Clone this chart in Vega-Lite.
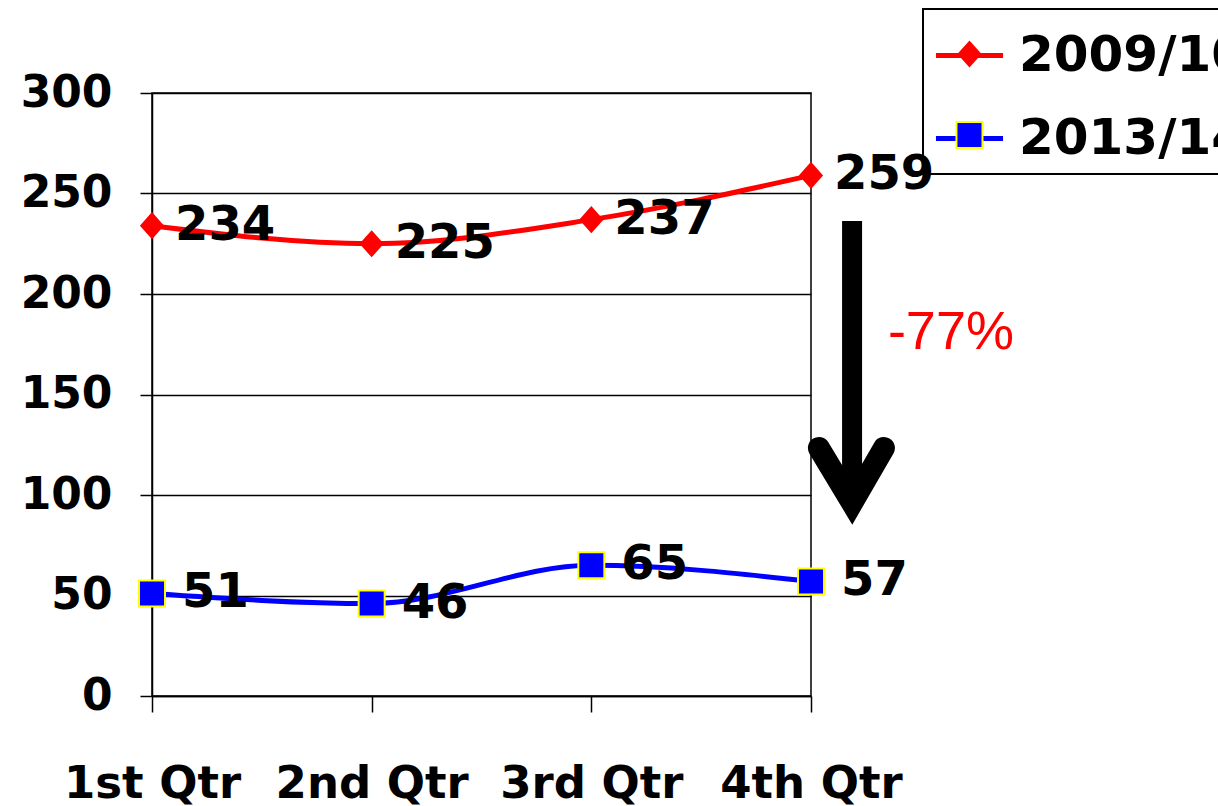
{
  "$schema": "https://vega.github.io/schema/vega-lite/v6.json",
  "width": 659,
  "height": 603,
  "autosize": {"type": "none"},
  "padding": {"left": 152, "top": 93, "right": 407, "bottom": 110},
  "background": "white",
  "config": {
    "view": {"stroke": "black", "strokeWidth": 1.5},
    "legend": {"strokeWidth": 2}
  },
  "datasets": {
    "main": [
      {"x": 1, "y": 234, "series": "2009/10", "yr": "2009/10"},
      {"x": 2, "y": 225, "series": "2009/10", "yr": "2009/10"},
      {"x": 3, "y": 237, "series": "2009/10", "yr": "2009/10"},
      {"x": 4, "y": 259, "series": "2009/10", "yr": "2009/10"},
      {"x": 1, "y": 51, "series": "2013/14", "yr": "2013/14"},
      {"x": 2, "y": 46, "series": "2013/14", "yr": "2013/14"},
      {"x": 3, "y": 65, "series": "2013/14", "yr": "2013/14"},
      {"x": 4, "y": 57, "series": "2013/14", "yr": "2013/14"}
    ],
    "shaft": [{"x": 4.187, "y": 236.3, "y2": 105}],
    "head": [
      {"x": 4.036, "y": 123.4, "o": 1},
      {"x": 4.187, "y": 96, "o": 2},
      {"x": 4.332, "y": 123.4, "o": 3}
    ],
    "note": [{"x": 4.35, "y": 180.6, "t": "-77%"}]
  },
  "encoding": {
    "x": {
      "field": "x",
      "type": "quantitative",
      "scale": {"domain": [1, 4], "nice": false, "zero": false},
      "axis": {
        "values": [1, 2, 3, 4],
        "labelExpr": "['','1st Qtr','2nd Qtr','3rd Qtr','4th Qtr'][datum.value]",
        "title": null,
        "grid": false,
        "tickSize": 16,
        "tickColor": "black",
        "tickWidth": 1.5,
        "domainColor": "black",
        "domainWidth": 1.5,
        "labelFont": "DejaVu Sans",
        "labelFontWeight": "bold",
        "labelFontSize": 45,
        "labelColor": "black",
        "labelPadding": 49,
        "labelLimit": 0,
        "labelFlush": false,
        "labelOverlap": false,
        "labelBound": false
      }
    },
    "y": {
      "field": "y",
      "type": "quantitative",
      "scale": {"domain": [0, 300], "nice": false, "zero": true},
      "axis": {
        "values": [0, 50, 100, 150, 200, 250, 300],
        "title": null,
        "grid": true,
        "gridColor": "black",
        "gridWidth": 1.5,
        "gridOpacity": 1,
        "tickSize": 12,
        "tickColor": "black",
        "tickWidth": 1.5,
        "domainColor": "black",
        "domainWidth": 1.5,
        "labelFont": "DejaVu Sans",
        "labelFontWeight": "bold",
        "labelFontSize": 44,
        "labelColor": "black",
        "labelPadding": 28,
        "labelLimit": 0,
        "labelFlush": false,
        "labelOverlap": false
      }
    }
  },
  "layer": [
    {
      "data": {"name": "main"},
      "mark": {"type": "line", "interpolate": "monotone", "strokeWidth": 5},
      "encoding": {
        "color": {
          "field": "series",
          "type": "nominal",
          "scale": {"domain": ["2009/10", "2013/14"], "range": ["#FF0000", "#0000FF"]},
          "legend": {
            "orient": "none",
            "legendX": 771,
            "legendY": -84,
            "title": null,
            "symbolType": "stroke",
            "symbolSize": 4500,
            "symbolStrokeWidth": 5,
            "labelFont": "DejaVu Sans",
            "labelFontWeight": "bold",
            "labelFontSize": 50,
            "labelColor": "black",
            "labelLimit": 0,
            "labelOffset": 13,
            "strokeColor": "black",
            "padding": 10,
            "rowPadding": 21,
            "zindex": 1
          }
        }
      }
    },
    {
      "data": {"name": "main"},
      "mark": {"type": "point", "filled": true, "opacity": 1, "strokeWidth": 2, "size": 4500},
      "encoding": {
        "shape": {
          "field": "yr",
          "type": "nominal",
          "scale": {"range": ["M-0.32,0L0,-0.36L0.32,0L0,0.36Z", "M-0.388,-0.388H0.388V0.388H-0.388Z"]},
          "legend": {
            "orient": "none",
            "legendX": 771,
            "legendY": -84,
            "title": null,
            "symbolSize": 4500,
            "symbolStrokeWidth": 2,
            "symbolOpacity": 1,
            "symbolOffset": 1.5,
            "labelExpr": "''",
            "labelFontSize": 50,
            "labelLimit": 0,
            "labelOffset": 13,
            "padding": 10,
            "rowPadding": 21,
            "zindex": 2
          }
        },
        "fill": {
          "field": "yr",
          "type": "nominal",
          "scale": {"range": ["#FF0000", "#0000FF"]}
        },
        "stroke": {
          "field": "yr",
          "type": "nominal",
          "scale": {"range": ["#FF0000", "#FFFF00"]}
        }
      }
    },
    {
      "data": {"name": "main"},
      "transform": [{"filter": "datum.series === '2009/10'"}],
      "mark": {"type": "text", "align": "left", "baseline": "middle", "dx": 23, "font": "DejaVu Sans", "fontWeight": "bold", "fontSize": 48, "color": "black"},
      "encoding": {"text": {"field": "y", "type": "quantitative"}}
    },
    {
      "data": {"name": "main"},
      "transform": [{"filter": "datum.series === '2013/14'"}],
      "mark": {"type": "text", "align": "left", "baseline": "middle", "dx": 30, "font": "DejaVu Sans", "fontWeight": "bold", "fontSize": 48, "color": "black"},
      "encoding": {"text": {"field": "y", "type": "quantitative"}}
    },
    {
      "data": {"name": "shaft"},
      "mark": {"type": "rule", "strokeWidth": 20, "color": "black", "strokeCap": "butt"},
      "encoding": {"y2": {"field": "y2"}}
    },
    {
      "data": {"name": "head"},
      "mark": {"type": "line", "strokeWidth": 22, "color": "black", "strokeCap": "round", "strokeJoin": "miter", "strokeMiterLimit": 10},
      "encoding": {"order": {"field": "o", "type": "quantitative"}}
    },
    {
      "data": {"name": "note"},
      "mark": {"type": "text", "align": "left", "baseline": "middle", "font": "Liberation Sans", "fontSize": 54, "color": "#FF0000"},
      "encoding": {"text": {"field": "t", "type": "nominal"}}
    }
  ]
}
